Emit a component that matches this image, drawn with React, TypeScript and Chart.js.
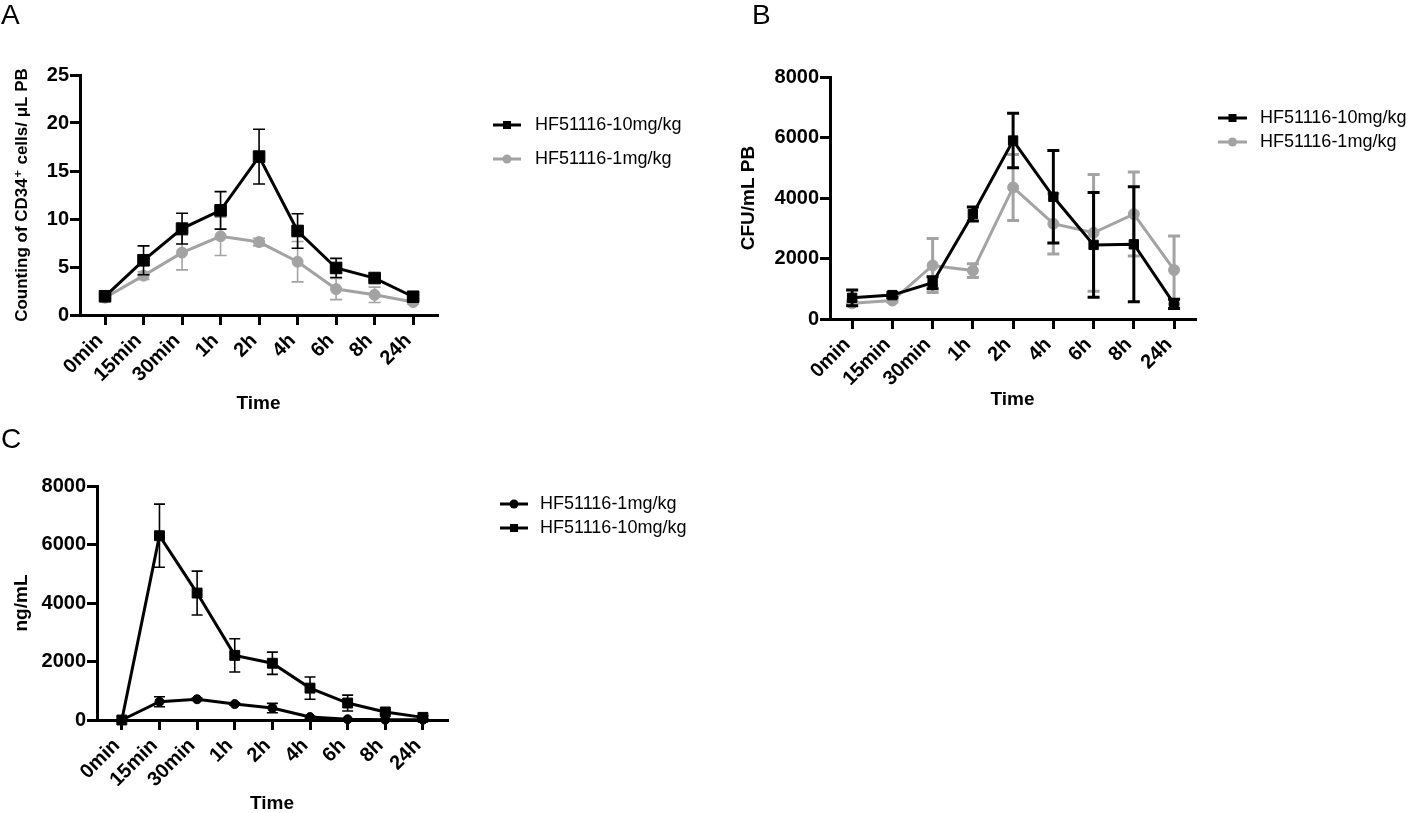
import React, { useEffect, useRef } from "react";
import { Chart, registerables } from "chart.js";

Chart.register(...registerables);

const FONT = "'Liberation Sans', Arial, Helvetica, 'DejaVu Sans', sans-serif";
const GREY = "#a3a3a3";
const BLACK = "#000000";

// ---------- data ----------
const timeLabels = ["0min", "15min", "30min", "1h", "2h", "4h", "6h", "8h", "24h"];

// Panel A: CD34+ cells / uL PB
const cd34High = [1.95, 5.7, 9.0, 10.9, 16.5, 8.75, 4.9, 3.85, 1.9];
const cd34HighErr = [0.2, 1.5, 1.6, 1.95, 2.85, 1.8, 1.0, 0.2, 0.2];
const cd34Low = [1.8, 4.1, 6.5, 8.2, 7.6, 5.55, 2.7, 2.1, 1.35];
const cd34LowErr = [0.2, 0.4, 1.8, 2.0, 0.4, 2.1, 1.1, 0.8, 0.2];

// Panel B: CFU / mL PB
const cfuHigh = [700, 790, 1200, 3470, 5900, 4040, 2450, 2470, 500];
const cfuHighErr = [260, 80, 200, 230, 900, 1530, 1730, 1900, 150];
const cfuLow = [520, 610, 1770, 1600, 4350, 3150, 2850, 3470, 1620];
const cfuLowErr = [70, 50, 890, 230, 1090, 1000, 1930, 1390, 1120];

// Panel C: ng/mL
const pkLow = [0, 625, 710, 545, 410, 100, 25, 10, 10];
const pkLowErr = [0, 170, 40, 40, 160, 30, 10, 5, 5];
const pkHigh = [0, 6300, 4340, 2210, 1940, 1090, 580, 275, 90];
const pkHighErr = [0, 1080, 750, 570, 380, 380, 270, 80, 50];

const seriesHighLabel = "HF51116-10mg/kg";
const seriesLowLabel = "HF51116-1mg/kg";

// ---------- plugins ----------
const errorBarPlugin = {
  id: "errorBars",
  afterDatasetDraw(chart: any, args: any, opts: any) {
    const ds: any = chart.data.datasets[args.index];
    const errs: number[] | undefined = ds.errors;
    if (!errs) return;
    const meta = args.meta;
    const yScale = chart.scales[meta.yAxisID];
    const ctx = chart.ctx;
    const half = (opts.capWidth || 12) / 2;
    ctx.save();
    ctx.strokeStyle = ds.borderColor;
    ctx.lineWidth = opts.lineWidth || 1.5;
    meta.data.forEach((pt: any, i: number) => {
      const e = errs[i];
      if (!e) return;
      const v = ds.data[i].y;
      const yTop = yScale.getPixelForValue(v + e);
      const yBot = yScale.getPixelForValue(Math.max(v - e, yScale.min));
      const x = pt.x;
      ctx.beginPath();
      ctx.moveTo(x, yTop);
      ctx.lineTo(x, yBot);
      ctx.moveTo(x - half, yTop);
      ctx.lineTo(x + half, yTop);
      if (v - e >= yScale.min) {
        ctx.moveTo(x - half, yBot);
        ctx.lineTo(x + half, yBot);
      }
      ctx.stroke();
    });
    ctx.restore();
  },
};

const sideLegendPlugin = {
  id: "sideLegend",
  afterDraw(chart: any, _args: any, opts: any) {
    if (!opts || !opts.items) return;
    const ctx = chart.ctx;
    opts.items.forEach((dsIndex: number, k: number) => {
      const ds: any = chart.data.datasets[dsIndex];
      const y = opts.y + k * opts.spacing;
      ctx.save();
      ctx.strokeStyle = ds.borderColor;
      ctx.lineWidth = opts.lineWidth;
      ctx.beginPath();
      ctx.moveTo(opts.x, y);
      ctx.lineTo(opts.x + opts.lineLength, y);
      ctx.stroke();
      const cx = opts.x + opts.lineLength / 2;
      ctx.fillStyle = ds.borderColor;
      if (ds.pointStyle === "rect") {
        const s = opts.markerSize;
        ctx.fillRect(cx - s / 2, y - s / 2, s, s);
      } else {
        ctx.beginPath();
        ctx.arc(cx, y, opts.markerSize / 2 + 0.5, 0, Math.PI * 2);
        ctx.fill();
      }
      ctx.fillStyle = "#000";
      ctx.font = `${opts.fontSize}px ${FONT}`;
      ctx.textBaseline = "middle";
      ctx.textAlign = "left";
      ctx.fillText(ds.label, opts.textX, y);
      ctx.restore();
    });
  },
};

const toPoints = (vals: number[]) => vals.map((v, i) => ({ x: i, y: v }));

type PanelSpec = {
  width: number;
  height: number;
  area: { left: number; top: number; right: number; bottom: number };
  xRange: [number, number];
  yMax: number;
  yStep: number;
  yTitle: string;
  yTitleSize: number;
  yTitlePad: number;
  xTitlePad: number;
  datasets: any[];
  errLineWidth: number;
  errCap: number;
  legend: any;
};

function buildConfig(p: PanelSpec): any {
  const tickFont = { family: FONT, size: 20, weight: "bold" as const };
  const titleFont = { family: FONT, size: 19, weight: "bold" as const };
  return {
    type: "line",
    data: { datasets: p.datasets },
    plugins: [errorBarPlugin, sideLegendPlugin],
    options: {
      animation: false,
      responsive: false,
      maintainAspectRatio: false,
      devicePixelRatio: 1,
      layout: {
        padding: { left: 0, top: p.area.top, right: p.width - p.area.right, bottom: 0 },
      },
      plugins: {
        legend: { display: false },
        tooltip: { enabled: false },
        errorBars: { lineWidth: p.errLineWidth, capWidth: p.errCap },
        sideLegend: p.legend,
      },
      scales: {
        x: {
          type: "linear",
          min: p.xRange[0],
          max: p.xRange[1],
          afterFit: (s: any) => {
            s.height = p.height - p.area.bottom;
          },
          ticks: {
            stepSize: 1,
            includeBounds: false,
            autoSkip: false,
            minRotation: 45,
            maxRotation: 45,
            padding: 4,
            labelOffset: -5,
            color: "#000",
            font: tickFont,
            callback: (v: any) => timeLabels[v] ?? "",
          },
          grid: {
            display: true,
            drawOnChartArea: false,
            drawTicks: true,
            tickLength: 10,
            lineWidth: 3,
            color: "#000",
          },
          border: { display: true, width: 3, color: "#000" },
          title: {
            display: true,
            text: "Time",
            color: "#000",
            font: titleFont,
            padding: { top: 0, bottom: p.xTitlePad },
          },
        },
        y: {
          type: "linear",
          min: 0,
          max: p.yMax,
          afterFit: (s: any) => {
            s.width = p.area.left;
          },
          ticks: {
            stepSize: p.yStep,
            padding: 1,
            color: "#000",
            font: tickFont,
            callback: (v: any) => String(v),
          },
          grid: {
            display: true,
            drawOnChartArea: false,
            drawTicks: true,
            tickLength: 10,
            lineWidth: 3,
            color: "#000",
          },
          border: { display: true, width: 3, color: "#000" },
          title: {
            display: true,
            text: p.yTitle,
            color: "#000",
            font: { ...titleFont, size: p.yTitleSize },
            padding: { top: p.yTitlePad, bottom: 0 },
          },
        },
      },
    },
  };
}

function series(label: string, vals: number[], errs: number[], color: string, style: string, radius: number, lw: number) {
  return {
    label,
    data: toPoints(vals),
    errors: errs,
    borderColor: color,
    backgroundColor: color,
    borderWidth: lw,
    pointStyle: style,
    pointRadius: radius,
    pointBorderWidth: 1,
    pointBackgroundColor: color,
    pointBorderColor: color,
    tension: 0,
    clip: false,
  };
}

const panelA: PanelSpec = {
  width: 730,
  height: 430,
  area: { left: 80, top: 75, right: 437, bottom: 315 },
  xRange: [-0.65, 8.62],
  yMax: 25,
  yStep: 5,
  yTitle: "Counting of CD34\u207A cells/ \u03BCL PB",
  yTitleSize: 17,
  yTitlePad: 12,
  xTitlePad: 15,
  datasets: [
    series(seriesHighLabel, cd34High, cd34HighErr, BLACK, "rect", 8.2, 3),
    series(seriesLowLabel, cd34Low, cd34LowErr, GREY, "circle", 5.5, 3),
  ],
  errLineWidth: 1.6,
  errCap: 12,
  legend: { items: [0, 1], x: 493, y: 125, spacing: 34, lineLength: 28, lineWidth: 3, markerSize: 8, textX: 535, fontSize: 18 },
};

const panelB: PanelSpec = {
  width: 688,
  height: 430,
  area: { left: 100, top: 77, right: 465, bottom: 319 },
  xRange: [-0.55, 8.52],
  yMax: 8000,
  yStep: 2000,
  yTitle: "CFU/mL PB",
  yTitleSize: 19,
  yTitlePad: 7,
  xTitlePad: 19,
  datasets: [
    series(seriesHighLabel, cfuHigh, cfuHighErr, BLACK, "rect", 6.6, 3),
    series(seriesLowLabel, cfuLow, cfuLowErr, GREY, "circle", 5.5, 3),
  ],
  errLineWidth: 3,
  errCap: 12,
  legend: { items: [0, 1], x: 488, y: 118, spacing: 24, lineLength: 29, lineWidth: 3, markerSize: 8, textX: 530, fontSize: 18 },
};

const panelC: PanelSpec = {
  width: 730,
  height: 400,
  area: { left: 97, top: 66, right: 447, bottom: 300 },
  xRange: [-0.66, 8.64],
  yMax: 8000,
  yStep: 2000,
  yTitle: "ng/mL",
  yTitleSize: 19,
  yTitlePad: 10,
  xTitlePad: 5,
  datasets: [
    series(seriesLowLabel, pkLow, pkLowErr, BLACK, "circle", 4.5, 3),
    series(seriesHighLabel, pkHigh, pkHighErr, BLACK, "rect", 7, 3),
  ],
  errLineWidth: 1.6,
  errCap: 11,
  legend: { items: [0, 1], x: 500, y: 84, spacing: 24, lineLength: 28, lineWidth: 3, markerSize: 8, textX: 540, fontSize: 18 },
};

function Panel({ spec, left, top }: { spec: PanelSpec; left: number; top: number }) {
  const ref = useRef<HTMLCanvasElement | null>(null);
  useEffect(() => {
    if (!ref.current) return;
    const chart = new Chart(ref.current, buildConfig(spec));
    return () => chart.destroy();
  }, [spec]);
  return (
    <canvas
      ref={ref}
      width={spec.width}
      height={spec.height}
      style={{ position: "absolute", left, top, width: spec.width, height: spec.height }}
    />
  );
}

const letterStyle = (left: number, top: number): React.CSSProperties => ({
  position: "absolute",
  left,
  top,
  fontFamily: FONT,
  fontSize: 28,
  lineHeight: "28px",
  color: "#000",
});

export default function App() {
  return (
    <div
      style={{
        position: "absolute",
        left: 0,
        top: 0,
        width: 1418,
        height: 813,
        overflow: "hidden",
        background: "#fff",
      }}
    >
      <Panel spec={panelA} left={0} top={0} />
      <Panel spec={panelB} left={730} top={0} />
      <Panel spec={panelC} left={0} top={420} />
      <div style={letterStyle(1, 1)}>A</div>
      <div style={letterStyle(752, 1)}>B</div>
      <div style={letterStyle(1, 425)}>C</div>
    </div>
  );
}
